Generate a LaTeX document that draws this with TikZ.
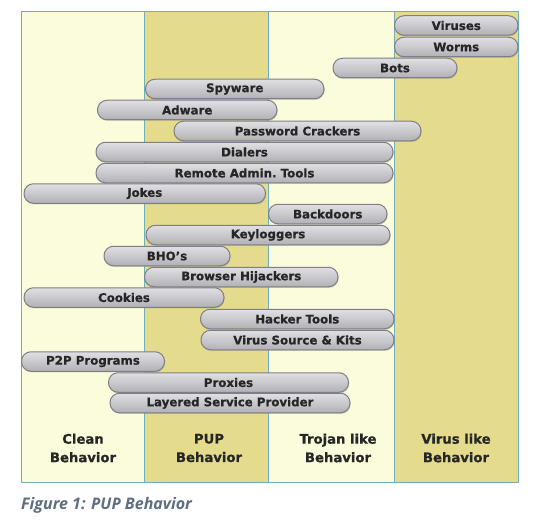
\documentclass[tikz,border=0pt]{standalone}
\usepackage{fontspec}
\setmainfont{DejaVu Sans}[BoldFeatures={FakeBold=0.7}]
\newfontfamily\capfont{Open Sans}
\usetikzlibrary{shadows}
\definecolor{paleyel}{HTML}{FBFCDB}
\definecolor{darkyel}{HTML}{E4DB8C}
\definecolor{frameline}{HTML}{6FAFBE}
\definecolor{barline}{HTML}{7E7E86}
\definecolor{bartop}{HTML}{E0E0E4}
\definecolor{barbot}{HTML}{B0B0B6}
\definecolor{bartext}{HTML}{262626}
\definecolor{captext}{HTML}{5E6E80}
\tikzset{
  pillbar/.style={draw=barline, line width=1pt, top color=bartop, bottom color=barbot,
    rounded corners=9.5pt, minimum height=19.5pt, inner sep=0pt, text=bartext,
    font=\bfseries\fontsize{11.8}{12}\selectfont, anchor=center,
    drop shadow={shadow xshift=0.6pt, shadow yshift=-1.2pt, opacity=0.35}},
  collabel/.style={font=\bfseries\fontsize{13.2}{18.5}\selectfont, text=bartext, align=center, anchor=center},
}
\newcommand{\pbar}[5]{% name, left, right, cy, text
  \pgfmathsetmacro{\pbw}{#3-#2}\pgfmathsetmacro{\pbc}{(#2+#3)/2}
  \node[pillbar, minimum width=\pbw pt] (#1) at (\pbc,#4) {#5};}
\begin{document}
\begin{tikzpicture}[x=1pt,y=-1pt]
\useasboundingbox (0,0) rectangle (535,524);
% columns
\fill[paleyel] (21,12) rectangle (144.5,482);
\fill[darkyel] (144.5,12) rectangle (268.5,482);
\fill[paleyel] (268.5,12) rectangle (394.5,482);
\fill[darkyel] (394.5,12) rectangle (518.5,482);
\draw[frameline, line width=0.8pt] (144.5,12) -- (144.5,482);
\draw[frameline, line width=0.8pt] (268.5,12) -- (268.5,482);
\draw[frameline, line width=0.8pt] (394.5,12) -- (394.5,482);
\draw[frameline, line width=1pt] (21,12) rectangle (518.5,482);
% bars
\pbar{viruses}{394.5}{518}{25.5}{Viruses}
\pbar{worms}{394.5}{518}{47}{Worms}
\pbar{bots}{333}{457}{68}{Bots}
\pbar{spyware}{145.5}{324}{89}{Spyware}
\pbar{adware}{97.5}{277}{110}{Adware}
\pbar{password}{174}{421}{131}{Password Crackers}
\pbar{dialers}{96}{393}{152}{Dialers}
\pbar{remote}{96}{393}{173}{Remote Admin.\ Tools}
\pbar{jokes}{24}{265.5}{193.5}{Jokes}
\pbar{backdoors}{268.5}{387}{214}{Backdoors}
\pbar{keyloggers}{146}{390}{235}{Keyloggers}
\pbar{bhos}{104}{230}{256}{BHO’s}
\pbar{browser}{144.5}{338}{277}{Browser Hijackers}
\pbar{cookies}{24}{224}{297.5}{Cookies}
\pbar{hacker}{200.5}{394}{319}{Hacker Tools}
\pbar{virussrc}{201}{394}{340}{Virus Source \& Kits}
\pbar{p2p}{21.5}{164.5}{361.5}{P2P Programs}
\pbar{proxies}{108.5}{348.5}{382.5}{Proxies}
\pbar{lsp}{110}{350}{403}{Layered Service Provider}
% column labels
\node[collabel] (clean) at (83,448) {Clean\\Behavior};
\node[collabel] (pup) at (209,448) {PUP\\Behavior};
\node[collabel] (trojan) at (338,448) {Trojan like\\Behavior};
\node[collabel] (virus) at (456,448) {Virus like\\Behavior};
% caption
\node[anchor=west, inner sep=0pt, text=captext, font=\capfont\itshape\fontsize{16}{18}\selectfont] (caption) at (21,505) {\textbf{Figure 1: PUP Behavior}};
\end{tikzpicture}
\end{document}
